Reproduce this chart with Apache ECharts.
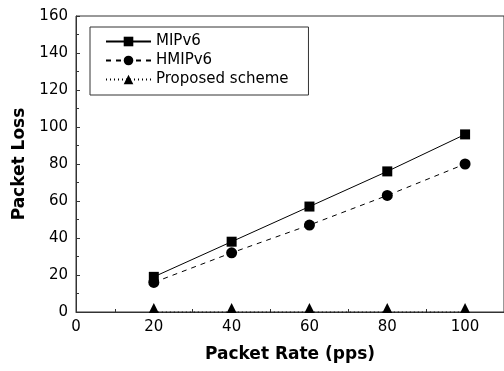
<!DOCTYPE html>
<html>
<head>
<meta charset="utf-8">
<script src="https://cdn.jsdelivr.net/npm/echarts@6/dist/echarts.min.js"></script>
<style>
  html, body { margin: 0; padding: 0; background: #fff; }
  #chart { width: 504px; height: 371px; }
</style>
</head>
<body>
<div id="chart"></div>
<script>
// values
const packetRates = [20, 40, 60, 80, 100];
const mipv6 = [19, 38, 57, 76, 96];
const hmipv6 = [16, 32, 47, 63, 80];
const proposed = [0, 0, 0, 0, 0];

const toPairs = vals => vals.map((v, i) => [packetRates[i], v]);

const font = 'DejaVu Sans';
const axisColor = '#333';

const chart = echarts.init(document.getElementById('chart'));

const option = {
  backgroundColor: '#fff',
  animation: false,
  grid: {
    left: 76,
    top: 16,
    width: 432,
    bottom: 59,
    show: true,
    borderColor: axisColor,
    borderWidth: 1
  },
  legend: {
    orient: 'vertical',
    left: 90,
    top: 27,
    padding: [7, 20, 8, 15],
    itemWidth: 45,
    itemHeight: 12,
    itemGap: 4,
    borderColor: axisColor,
    borderWidth: 1,
    textStyle: { fontFamily: font, fontSize: 15, lineHeight: 15, color: '#000' },
    data: ['MIPv6', 'HMIPv6', 'Proposed scheme']
  },
  xAxis: {
    type: 'value',
    min: 0,
    max: 110,
    interval: 20,
    name: 'Packet Rate (pps)',
    nameLocation: 'middle',
    nameGap: 34,
    nameTextStyle: { fontFamily: font, fontSize: 17, fontWeight: 'bold', color: '#000' },
    splitLine: { show: false },
    axisLine: { onZero: false, lineStyle: { color: axisColor, width: 1 } },
    axisTick: { inside: true, length: 4, lineStyle: { color: axisColor } },
    minorTick: { show: true, splitNumber: 2, length: 3, lineStyle: { color: axisColor } },
    axisLabel: { fontFamily: font, fontSize: 15, color: '#000', margin: 8, showMaxLabel: false }
  },
  yAxis: {
    type: 'value',
    min: 0,
    max: 160,
    interval: 20,
    name: 'Packet Loss',
    nameLocation: 'middle',
    nameGap: 48,
    nameTextStyle: { fontFamily: font, fontSize: 17, fontWeight: 'bold', color: '#000' },
    splitLine: { show: false },
    axisLine: { lineStyle: { color: axisColor, width: 1 } },
    axisTick: { inside: true, length: 4, lineStyle: { color: axisColor } },
    minorTick: { show: true, splitNumber: 2, length: 3, lineStyle: { color: axisColor } },
    axisLabel: { fontFamily: font, fontSize: 15, color: '#000', margin: 8 }
  },
  series: [
    {
      name: 'MIPv6',
      type: 'line',
      data: toPairs(mipv6),
      symbol: 'rect',
      symbolSize: 10,
      color: '#000',
      itemStyle: { color: '#000' },
      lineStyle: { color: '#000', width: 1, type: 'solid' }
    },
    {
      name: 'HMIPv6',
      type: 'line',
      data: toPairs(hmipv6),
      symbol: 'circle',
      symbolSize: 11,
      color: '#000',
      itemStyle: { color: '#000' },
      lineStyle: { color: '#000', width: 1, type: [5, 5] }
    },
    {
      name: 'Proposed scheme',
      type: 'line',
      data: toPairs(proposed),
      symbol: 'triangle',
      symbolSize: 10,
      symbolOffset: [0, -4],
      clip: false,
      color: '#000',
      itemStyle: { color: '#000' },
      lineStyle: { color: '#000', width: 1, type: [1, 3] }
    }
  ]
};

chart.setOption(option);
</script>
</body>
</html>
